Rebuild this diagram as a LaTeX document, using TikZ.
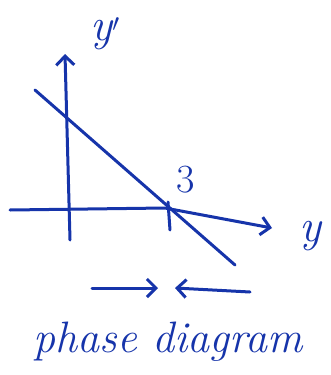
\documentclass[tikz,border=0pt]{standalone}
\usetikzlibrary{arrows.meta}
\definecolor{ink}{RGB}{22,52,170}
\begin{document}
\begin{tikzpicture}[x=1pt,y=-1pt,
  pen/.style={draw=ink,line width=3pt,line cap=round,line join=round},
  tip/.style={-{Straight Barb[length=9pt,width=18pt,line width=3pt]}},
  lbl/.style={text=ink,font=\itshape\fontsize{46}{48}\selectfont,inner sep=0pt}]
\useasboundingbox (0,0) rectangle (330,375);
\coordinate (vb) at (70,240);
\coordinate (vt) at (65,54);
\coordinate (hl) at (10,210);
\coordinate (hr) at (272,228);
\coordinate (ls) at (35,90);
\coordinate (le) at (235,265);
\coordinate (tt) at (168,202);
\coordinate (tb) at (170,230);
\coordinate (r1) at (92,288);
\coordinate (r2) at (158,288);
\coordinate (l1) at (250,292);
\coordinate (l2) at (175,288);
\draw[pen,tip] (vb) -- (vt);
\draw[pen,tip] (hl) -- (165,208) -- (hr);
\draw[pen] (ls) -- (le);
\draw[pen] (tt) -- (tb);
\draw[pen,tip] (r1) -- (r2);
\draw[pen,tip] (l1) -- (l2);
\node[lbl] (yp) at (105,34) {y$'$};
\node[lbl] (y) at (310,236) {y};
\node[lbl,font=\fontsize{40}{42}\selectfont] (three) at (186,180) {3};
\node[lbl,font=\itshape\fontsize{44}{46}\selectfont] (cap) at (168,342) {phase diagram};
\end{tikzpicture}
\end{document}
